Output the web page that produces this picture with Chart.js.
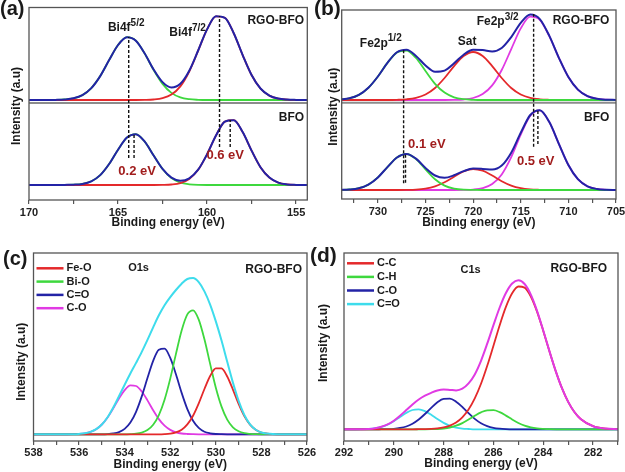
<!DOCTYPE html>
<html lang="en">
<head>
<meta charset="UTF-8">
<title>XPS spectra of BFO and RGO-BFO</title>
<script src="https://cdn.jsdelivr.net/npm/chart.js"></script>
<style>
  html, body { margin: 0; padding: 0; background: #fff; overflow: hidden; }
  body { width: 625px; height: 472px; position: relative; }
  canvas { position: absolute; }
</style>
</head>
<body>
<canvas id="panelA" width="320" height="236" style="left:0;top:0"></canvas>
<canvas id="panelC" width="320" height="236" style="left:0;top:236px"></canvas>
<canvas id="panelB" width="346" height="236" style="left:306px;top:0"></canvas>
<canvas id="panelD" width="346" height="236" style="left:306px;top:236px"></canvas>

<script>
// ---- (a) Bi 4f ----
const aEnergy = [154, 154.5, 155, 155.5, 156, 156.5, 157, 157.5, 158, 158.5, 159, 159.5, 160, 160.5, 161, 161.5,
  162, 162.5, 163, 163.5, 164, 164.5, 165, 165.5, 166, 166.5, 167, 167.5, 168, 168.5, 169, 169.5, 170];
const aRgoFit = [0, 0, 0.1, 0.4, 1.4, 4.4, 11.5, 25.0, 44.9, 66.7, 82.2, 83.7, 70.6, 49.5, 29.3, 16.2,
  12.5, 17.9, 30.5, 46.5, 59.3, 62.8, 55.0, 39.9, 23.9, 11.9, 4.9, 1.7, 0.5, 0.1, 0, 0, 0];
const aRgoBi72 = [0, 0, 0.1, 0.4, 1.4, 4.4, 11.5, 25.0, 44.9, 66.7, 82.2, 83.7, 70.6, 49.3, 28.5, 13.6,
  5.4, 1.8, 0.5, 0.1, 0, 0, 0, 0, 0, 0, 0, 0, 0, 0, 0, 0, 0];
const aRgoBi52 = [0, 0, 0, 0, 0, 0, 0, 0, 0, 0, 0, 0, 0, 0.2, 0.8, 2.6,
  7.1, 16.1, 30.0, 46.4, 59.3, 62.8, 55.0, 39.9, 23.9, 11.9, 4.9, 1.7, 0.5, 0.1, 0, 0, 0];
const aBfoFit = [0, 0, 0.1, 0.6, 2.4, 7.4, 17.8, 34.4, 52.9, 64.8, 63.4, 49.4, 30.7, 15.3, 6.7, 4.3,
  7.4, 16.1, 29.5, 43.3, 50.8, 47.4, 35.3, 21.0, 9.9, 3.7, 1.1, 0.3, 0.1, 0, 0, 0, 0];
const aBfoBi72 = [0, 0, 0.1, 0.6, 2.4, 7.4, 17.8, 34.4, 52.9, 64.8, 63.4, 49.4, 30.7, 15.2, 6.0, 1.9,
  0.5, 0.1, 0, 0, 0, 0, 0, 0, 0, 0, 0, 0, 0, 0, 0, 0, 0];
const aBfoBi52 = [0, 0, 0, 0, 0, 0, 0, 0, 0, 0, 0, 0, 0, 0.1, 0.7, 2.4,
  6.9, 16.0, 29.5, 43.3, 50.8, 47.4, 35.3, 21.0, 9.9, 3.7, 1.1, 0.3, 0.1, 0, 0, 0, 0];
// peak markers: energy, top and bottom of the dashed line (plot units)
const aMarkE = [164.4, 164.1, 159.3, 158.7];
const aMarkTop = [163, 66, 184, 80];
const aMarkBottom = [42, 42, 53, 53];

// ---- (b) Fe 2p ----
const bEnergy = [705, 706, 707, 708, 709, 710, 711, 712, 713, 714, 715, 716, 717, 718, 719,
  720, 721, 722, 723, 724, 725, 726, 727, 728, 729, 730, 731, 732, 733, 734];
const bRgoFit = [0.1, 0.3, 1.2, 3.9, 10.4, 23.0, 42.2, 64.1, 80.9, 85.4, 77.1, 62.9, 52.0, 48.5, 49.9,
  50.2, 45.3, 36.7, 29.4, 28.2, 34.5, 44.1, 50.2, 47.7, 37.1, 23.5, 12.2, 5.1, 1.7, 0.5];
const bRgo12 = [0, 0, 0, 0, 0, 0, 0, 0, 0, 0, 0, 0, 0, 0, 0,
  0.2, 0.8, 2.7, 7.4, 16.2, 29.0, 42.0, 49.5, 47.5, 37.1, 23.5, 12.2, 5.1, 1.7, 0.5];
const bRgoSat = [0, 0, 0, 0, 0, 0, 0, 0.2, 0.7, 2.1, 5.5, 12.0, 22.0, 33.9, 44.0,
  48.0, 44.0, 33.9, 22.0, 12.0, 5.5, 2.1, 0.7, 0.2, 0, 0, 0, 0, 0, 0];
const bRgo32 = [0.1, 0.3, 1.2, 3.9, 10.4, 23.0, 42.2, 63.9, 80.2, 83.3, 71.6, 50.9, 30.0, 14.6, 5.9,
  2.0, 0.5, 0.1, 0, 0, 0, 0, 0, 0, 0, 0, 0, 0, 0, 0];
const bBfoFit = [0, 0.2, 1.0, 3.7, 10.8, 25.0, 46.2, 67.9, 79.8, 75.0, 57.2, 37.3, 24.4, 20.4, 21.1,
  21.5, 18.9, 14.7, 12.2, 14.5, 22.1, 31.4, 36.1, 32.5, 22.9, 12.6, 5.4, 1.8, 0.5, 0.1];
const bBfo12 = [0, 0, 0, 0, 0, 0, 0, 0, 0, 0, 0, 0, 0, 0, 0,
  0.1, 0.3, 1.4, 4.4, 10.8, 20.7, 31.0, 36.0, 32.5, 22.9, 12.6, 5.4, 1.8, 0.5, 0.1];
const bBfoSat = [0, 0, 0, 0, 0, 0, 0, 0, 0.2, 0.6, 1.8, 4.4, 8.8, 14.5, 19.3,
  21.0, 18.5, 13.3, 7.8, 3.7, 1.4, 0.4, 0.1, 0, 0, 0, 0, 0, 0, 0];
const bBfo32 = [0, 0.2, 1.0, 3.7, 10.8, 25.0, 46.2, 67.9, 79.6, 74.4, 55.4, 32.9, 15.6, 5.9, 1.8,
  0.4, 0.1, 0, 0, 0, 0, 0, 0, 0, 0, 0, 0, 0, 0, 0];
const bMarkE = [727.3, 727.1, 713.65, 713.2];
const bMarkTop = [149, 45, 185, 89];
const bMarkBottom = [15.7, 16.3, 52.3, 55];

// ---- (c) O 1s ----
const cEnergy = [526, 527, 527.5, 527.75, 528, 528.25, 528.5, 528.75, 529, 529.25, 529.5, 529.75, 530, 530.25,
  530.5, 530.75, 531, 531.25, 531.5, 531.75, 532, 532.25, 532.5, 532.75, 533, 533.25, 533.5, 533.75,
  534, 534.25, 534.5, 534.75, 535, 535.25, 535.5, 535.75, 536, 536.25, 536.5, 537, 538];
const cFit = [0, 0, 0.2, 0.7, 1.8, 4.6, 10.0, 19.3, 33.4, 51.7, 72.5, 93.7, 112.9, 129.7,
  142.9, 152.1, 156.2, 155.3, 150.6, 144.3, 137.2, 129.1, 119.0, 107.0, 94.4, 82.4, 71.4, 60.8,
  49.6, 38.0, 26.7, 17.0, 9.8, 5.1, 2.4, 1.0, 0.4, 0.1, 0, 0, 0];
const cFeO = [0, 0, 0.2, 0.7, 1.8, 4.5, 9.6, 18.2, 30.4, 44.7, 57.8, 65.9, 66.0, 58.3,
  45.3, 31.0, 18.6, 9.9, 4.6, 1.9, 0.7, 0.2, 0, 0, 0, 0, 0, 0,
  0, 0, 0, 0, 0, 0, 0, 0, 0, 0, 0, 0, 0];
const cBiO = [0, 0, 0, 0, 0, 0.1, 0.4, 1.1, 3.0, 7.0, 14.7, 27.7, 46.6, 70.4,
  95.0, 114.7, 124.0, 119.9, 103.8, 80.4, 55.7, 34.6, 19.2, 9.5, 4.2, 1.7, 0.6, 0.2,
  0, 0, 0, 0, 0, 0, 0, 0, 0, 0, 0, 0, 0];
const cCdO = [0, 0, 0, 0, 0, 0, 0, 0, 0, 0, 0, 0.1, 0.3, 1.0,
  2.6, 6.4, 13.5, 25.2, 41.4, 60.0, 76.4, 85.7, 84.6, 73.5, 56.3, 37.9, 22.5, 11.7,
  5.4, 2.2, 0.8, 0.2, 0, 0, 0, 0, 0, 0, 0, 0, 0];
const cCO = [0, 0, 0, 0, 0, 0, 0, 0, 0, 0, 0, 0, 0, 0,
  0, 0, 0.1, 0.3, 0.8, 2.0, 4.4, 8.6, 15.2, 24.0, 33.9, 42.8, 48.3, 48.9,
  44.2, 35.8, 25.9, 16.8, 9.8, 5.1, 2.4, 1.0, 0.4, 0.1, 0, 0, 0];

// ---- (d) C 1s ----
const dEnergy = [281, 281.5, 282, 282.5, 282.75, 283, 283.25, 283.5, 283.75, 284, 284.25, 284.5, 284.75, 285,
  285.25, 285.5, 285.75, 286, 286.25, 286.5, 286.75, 287, 287.25, 287.5, 287.75, 288, 288.25, 288.5,
  288.75, 289, 289.25, 289.5, 289.75, 290, 290.25, 290.5, 290.75, 291, 291.5, 292];
const dFit = [0.1, 0.7, 3.1, 10.3, 17.3, 27.4, 41.1, 58.2, 77.9, 98.8, 118.5, 134.7, 145.3, 149.1,
  145.8, 136.3, 121.8, 104.1, 85.6, 68.5, 54.9, 45.9, 40.6, 38.9, 39.4, 39.8, 38.8, 36.5,
  33.6, 29.8, 24.9, 19.2, 13.6, 8.6, 4.9, 2.5, 1.1, 0.4, 0, 0];
const dCC = [0.1, 0.7, 3.1, 10.3, 17.3, 27.4, 41.1, 58.2, 77.8, 98.4, 117.6, 132.8, 141.7, 142.8,
  136.0, 122.4, 104.1, 83.6, 63.5, 45.5, 30.9, 19.8, 12.0, 6.8, 3.7, 1.9, 0.9, 0.4,
  0.2, 0.1, 0, 0, 0, 0, 0, 0, 0, 0, 0, 0];
const dCH = [0, 0, 0, 0, 0, 0, 0, 0, 0.1, 0.4, 0.9, 1.9, 3.6, 6.3,
  9.8, 13.7, 17.1, 19.1, 19.0, 17.0, 13.6, 9.7, 6.2, 3.6, 1.8, 0.8, 0.3, 0.1,
  0, 0, 0, 0, 0, 0, 0, 0, 0, 0, 0, 0];
const dCO = [0, 0, 0, 0, 0, 0, 0, 0, 0, 0, 0, 0, 0, 0,
  0, 0.2, 0.6, 1.4, 3.1, 6.0, 10.4, 16.1, 22.3, 27.6, 30.7, 30.5, 27.1, 21.5,
  15.3, 9.8, 5.6, 2.8, 1.3, 0.5, 0.2, 0.1, 0, 0, 0, 0];
const dCdO = [0, 0, 0, 0, 0, 0, 0, 0, 0, 0, 0, 0, 0, 0,
  0, 0, 0, 0, 0, 0, 0, 0.3, 0.7, 1.7, 3.5, 6.4, 10.2, 14.5,
  18.1, 19.9, 19.3, 16.4, 12.3, 8.1, 4.7, 2.4, 1.1, 0.4, 0, 0];

// ---- styling ----
const FAMILY = '"Liberation Sans", Arial, Helvetica, sans-serif';
const BLUE = '#2323a6';
const RED = '#e4292b';
const GREEN = '#3ed83e';
const MAGENTA = '#e03ae3';
const CYAN = '#3edcec';
const NOTE_RED = '#a11d1d';
const INK = '#1a1a1a';

Chart.defaults.font.family = FAMILY;

function pts(energy, values, offset) {
  return energy.map((e, i) => ({ x: e, y: values[i] + offset }));
}

function curve(label, energy, values, offset, color, width) {
  return {
    label: label, data: pts(energy, values, offset),
    borderColor: color, borderWidth: width, pointRadius: 0,
    cubicInterpolationMode: 'monotone', fill: false
  };
}

function straight(data, color, width, dash) {
  return {
    label: '', data: data, borderColor: color, borderWidth: width, borderDash: dash || [],
    pointRadius: 0, tension: 0, cubicInterpolationMode: 'default', fill: false
  };
}

function markers(es, tops, bottoms) {
  return es.map((e, i) => straight([{ x: e, y: bottoms[i] }, { x: e, y: tops[i] }], '#111', 1.4, [3, 2]));
}

function xScale(min, max, step, major, maxTicks, pad) {
  return {
    type: 'linear', reverse: true, min: min, max: max,
    afterFit: function (scale) { scale.height = 30; },
    grid: { drawOnChartArea: false, drawTicks: true, tickLength: 4, color: '#555', lineWidth: 1.2 },
    border: { display: false },
    ticks: {
      stepSize: step, maxTicksLimit: maxTicks, includeBounds: false, autoSkip: false,
      maxRotation: 0, minRotation: 0, padding: pad, color: '#222',
      font: { size: 11, weight: 'bold' },
      callback: function (v) {
        return Math.abs(v / major - Math.round(v / major)) < 1e-6 ? String(v) : '';
      }
    }
  };
}

function drawNote(ctx, xs, ys, n) {
  const size = n.size || 12;
  const main = 'bold ' + size + 'px ' + FAMILY;
  const small = 'bold ' + Math.round(size * 0.8) + 'px ' + FAMILY;
  ctx.font = main;
  const w1 = ctx.measureText(n.t).width;
  let w2 = 0;
  if (n.sup) { ctx.font = small; w2 = ctx.measureText(n.sup).width; }
  let x = xs.getPixelForValue(n.x);
  const y = ys.getPixelForValue(n.y);
  if (n.align === 'center') x -= (w1 + w2) / 2;
  else if (n.align === 'right') x -= w1 + w2;
  ctx.textAlign = 'left';
  ctx.textBaseline = 'alphabetic';
  ctx.fillStyle = n.color || INK;
  ctx.font = main;
  ctx.fillText(n.t, x, y);
  if (n.sup) {
    ctx.font = small;
    ctx.fillText(n.sup, x + w1, y - size * 0.45);
  }
}

// frame, panel tag, axis titles, labels and legend
const decor = {
  id: 'decor',
  afterDraw(chart, args, o) {
    const ctx = chart.ctx;
    const a = chart.chartArea;
    const xs = chart.scales.x, ys = chart.scales.y;
    ctx.save();
    ctx.strokeStyle = '#555';
    ctx.lineWidth = 1.3;
    ctx.strokeRect(a.left, a.top, a.right - a.left, a.bottom - a.top);

    ctx.fillStyle = INK;
    ctx.font = 'bold ' + o.tagSize + 'px ' + FAMILY;
    ctx.textAlign = 'left';
    ctx.textBaseline = 'alphabetic';
    ctx.fillText(o.tag, o.tagX, o.tagY);

    ctx.font = 'bold 12px ' + FAMILY;
    ctx.textAlign = 'center';
    ctx.textBaseline = 'middle';
    ctx.fillText('Binding energy (eV)', (a.left + a.right) / 2, o.xTitleY);
    ctx.save();
    ctx.translate(o.yTitleX, o.yTitleY);
    ctx.rotate(-Math.PI / 2);
    ctx.fillText('Intensity (a.u)', 0, 0);
    ctx.restore();

    o.notes.forEach(n => drawNote(ctx, xs, ys, n));

    if (o.legend) {
      const L = o.legend;
      L.items.forEach((idx, k) => {
        const ds = chart.data.datasets[idx];
        const y = L.y + k * L.dy;
        const x0 = a.left + 3;
        ctx.strokeStyle = ds.borderColor;
        ctx.lineWidth = 2.5;
        ctx.beginPath();
        ctx.moveTo(x0, y);
        ctx.lineTo(x0 + 27, y);
        ctx.stroke();
        ctx.fillStyle = INK;
        ctx.font = 'bold 11px ' + FAMILY;
        ctx.textAlign = 'left';
        ctx.textBaseline = 'middle';
        ctx.fillText(ds.label, x0 + 30, y);
      });
    }
    ctx.restore();
  }
};

function makeChart(id, datasets, x, yMax, padding, deco) {
  return new Chart(document.getElementById(id), {
    type: 'line',
    data: { datasets: datasets },
    options: {
      responsive: false, animation: false, devicePixelRatio: 1,
      layout: { padding: padding },
      scales: { x: x, y: { display: false, min: 0, max: yMax } },
      plugins: { legend: { display: false }, tooltip: { enabled: false }, decor: deco }
    },
    plugins: [decor]
  });
}

// (a) RGO-BFO spectrum sits above BFO
const aTop = 100, aBottom = 15, aSplit = 97;
makeChart('panelA',
  [].concat(
    markers(aMarkE, aMarkTop, aMarkBottom),
    [curve('RGO-BFO fit', aEnergy, aRgoFit, aTop, BLUE, 2),
     curve('BFO fit', aEnergy, aBfoFit, aBottom, BLUE, 2),
     curve('Bi4f7/2', aEnergy, aRgoBi72, aTop, RED, 1.8),
     curve('Bi4f5/2', aEnergy, aRgoBi52, aTop, GREEN, 1.8),
     curve('Bi4f7/2', aEnergy, aBfoBi72, aBottom, RED, 1.8),
     curve('Bi4f5/2', aEnergy, aBfoBi52, aBottom, GREEN, 1.8),
     straight([{ x: 154, y: aSplit }, { x: 170, y: aSplit }], '#8c8c8c', 2)]
  ),
  xScale(154.37, 170, 2.5, 5, 10, 2), 192.5,
  { left: 29, right: 12.7, top: 7.5, bottom: 6 },
  {
    tag: '(a)', tagSize: 20, tagX: 0, tagY: 15, xTitleY: 223, yTitleX: 17, yTitleY: 106,
    notes: [
      { t: 'Bi4f', sup: '5/2', x: 164.54, y: 169, align: 'center' },
      { t: 'Bi4f', sup: '7/2', x: 161.09, y: 164, align: 'center' },
      { t: 'RGO-BFO', x: 154.55, y: 176, align: 'right' },
      { t: 'BFO', x: 154.55, y: 79.3, align: 'right' },
      { t: '0.2 eV', x: 163.93, y: 25, align: 'center', color: NOTE_RED, size: 13 },
      { t: '0.6 eV', x: 158.98, y: 40.7, align: 'center', color: NOTE_RED, size: 13 }
    ]
  });

// (b)
const bTop = 99, bBottom = 9, bSplit = 96.3;
makeChart('panelB',
  [].concat(
    markers(bMarkE, bMarkTop, bMarkBottom),
    [curve('RGO-BFO fit', bEnergy, bRgoFit, bTop, BLUE, 2),
     curve('BFO fit', bEnergy, bBfoFit, bBottom, BLUE, 2),
     curve('Fe2p1/2', bEnergy, bRgo12, bTop, GREEN, 1.8),
     curve('Sat', bEnergy, bRgoSat, bTop, RED, 1.8),
     curve('Fe2p3/2', bEnergy, bRgo32, bTop, MAGENTA, 1.8),
     curve('Fe2p1/2', bEnergy, bBfo12, bBottom, GREEN, 1.8),
     curve('Sat', bEnergy, bBfoSat, bBottom, RED, 1.8),
     curve('Fe2p3/2', bEnergy, bBfo32, bBottom, MAGENTA, 1.8),
     straight([{ x: 705, y: bSplit }, { x: 734, y: bSplit }], '#8c8c8c', 2)]
  ),
  xScale(705, 733.8, 2.5, 5, 16, 2), 189,
  { left: 35.7, right: 36, top: 10, bottom: 7 },
  {
    tag: '(b)', tagSize: 21, tagX: 8, tagY: 15, xTitleY: 223, yTitleX: 27.3, yTitleY: 106.7,
    notes: [
      { t: 'Fe2p', sup: '1/2', x: 729.7, y: 152.3, align: 'center' },
      { t: 'Sat', x: 720.64, y: 154, align: 'center' },
      { t: 'Fe2p', sup: '3/2', x: 717.43, y: 174, align: 'center' },
      { t: 'RGO-BFO', x: 705.7, y: 175, align: 'right' },
      { t: 'BFO', x: 705.7, y: 78.3, align: 'right' },
      { t: '0.1 eV', x: 724.86, y: 50.7, align: 'center', color: NOTE_RED, size: 13 },
      { t: '0.5 eV', x: 713.43, y: 34, align: 'center', color: NOTE_RED, size: 13 }
    ]
  });

// (c)
const cBase = 6.7;
makeChart('panelC',
  [curve('Fit', cEnergy, cFit, cBase, CYAN, 2),
   curve('Fe-O', cEnergy, cFeO, cBase, RED, 1.8),
   curve('Bi-O', cEnergy, cBiO, cBase, GREEN, 1.8),
   curve('C=O', cEnergy, cCdO, cBase, BLUE, 1.8),
   curve('C-O', cEnergy, cCO, cBase, MAGENTA, 1.8)],
  xScale(526, 538, 1, 2, 16, 1), 188,
  { left: 33.5, right: 13, top: 17, bottom: 1 },
  {
    tag: '(c)', tagSize: 20, tagX: 3, tagY: 29, xTitleY: 229, yTitleX: 21.7, yTitleY: 125.7,
    notes: [
      { t: 'O1s', x: 533.39, y: 170.3, align: 'center', size: 11 },
      { t: 'RGO-BFO', x: 526.22, y: 168.3, align: 'right' }
    ],
    legend: { items: [1, 2, 3, 4], y: 32.3, dy: 13.3 }
  });

// (d)
const dBase = 11.7;
makeChart('panelD',
  [curve('Fit', dEnergy, dFit, dBase, MAGENTA, 2),
   curve('C-C', dEnergy, dCC, dBase, RED, 1.8),
   curve('C-H', dEnergy, dCH, dBase, GREEN, 1.8),
   curve('C-O', dEnergy, dCO, dBase, BLUE, 1.8),
   curve('C=O', dEnergy, dCdO, dBase, CYAN, 1.8)],
  xScale(281, 292, 1, 2, 16, 1), 188,
  { left: 38, right: 34, top: 17, bottom: 1 },
  {
    tag: '(d)', tagSize: 21, tagX: 4, tagY: 26, xTitleY: 227.5, yTitleX: 17.3, yTitleY: 107,
    notes: [
      { t: 'C1s', x: 286.92, y: 168.3, align: 'center', size: 11 },
      { t: 'RGO-BFO', x: 281.44, y: 169.3, align: 'right' }
    ],
    legend: { items: [1, 2, 3, 4], y: 27.3, dy: 13.6 }
  });
</script>
</body>
</html>
